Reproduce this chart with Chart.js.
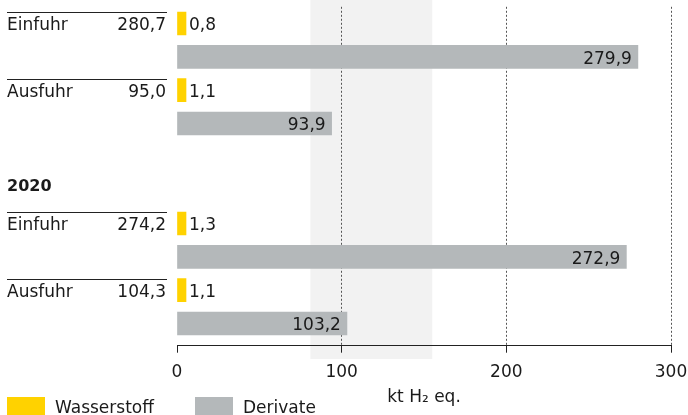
<!DOCTYPE html>
<html><head><meta charset="utf-8">
<script src="https://cdn.jsdelivr.net/npm/chart.js@4"></script>
<style>html,body{margin:0;padding:0;background:#fff}canvas{display:block}</style>
</head><body>
<canvas id="c" width="688" height="415"></canvas>
<script>
// ---- data ----
const rowLabels = ['Einfuhr', 'Ausfuhr', 'Einfuhr', 'Ausfuhr'];
const rowGroups = [0, 0, 1, 1];
const groupHeaders = ['', '2020'];
const totals = [280.7, 95.0, 274.2, 104.3];
const wasserstoff = [0.8, 1.1, 1.3, 1.1];
const derivate = [279.9, 93.9, 272.9, 103.2];
const seriesNames = ['Wasserstoff', 'Derivate'];
const xTicks = [0, 100, 200, 300];
const axisTitle = 'kt H₂ eq.';
const bandRange = [81, 155];

// ---- style ----
const FONT = '"DejaVu Sans", sans-serif';
const TXT = '#1a1a1a';
const YELLOW = '#FFD200';
const GREY = '#B4B8BA';

function slot(i) { return 2 * i + 2 * rowGroups[i]; }
function fmt(v) { return v.toFixed(1).replace('.', ','); }

const overlay = {
  id: 'overlay',
  beforeDraw(chart) {
    const {ctx} = chart;
    const xs = chart.scales.x;
    const x1 = xs.getPixelForValue(bandRange[0]);
    const x2 = xs.getPixelForValue(bandRange[1]);
    ctx.save();
    ctx.fillStyle = '#F2F2F2';
    ctx.fillRect(x1, 0, x2 - x1, 359);
    ctx.restore();
  },
  afterDatasetsDraw(chart) {
    const {ctx} = chart;
    const ys = chart.scales.y;
    const m0 = chart.getDatasetMeta(0).data;
    const m1 = chart.getDatasetMeta(1).data;
    ctx.save();
    ctx.fillStyle = TXT;
    ctx.font = '17px ' + FONT;
    ctx.textBaseline = 'alphabetic';
    // value labels
    m0.forEach((b, i) => {
      ctx.textAlign = 'left';
      ctx.fillText(fmt(wasserstoff[i]), b.x + 3, b.y + 7);
    });
    m1.forEach((b, i) => {
      ctx.textAlign = 'right';
      ctx.fillText(fmt(derivate[i]), b.x - 6, b.y + 7);
    });
    // left labels
    rowLabels.forEach((lab, i) => {
      const y = ys.getPixelForValue(slot(i));
      ctx.textAlign = 'left';
      ctx.fillText(lab, 7, y + 7);
      ctx.textAlign = 'right';
      ctx.fillText(fmt(totals[i]), 166, y + 7);
      ctx.strokeStyle = '#222';
      ctx.lineWidth = 1;
      const ly = Math.round(y - 11) + 0.5;
      ctx.beginPath();
      ctx.moveTo(7, ly);
      ctx.lineTo(167, ly);
      ctx.stroke();
    });
    // group headers
    ctx.font = 'bold 16px ' + FONT;
    ctx.textAlign = 'left';
    groupHeaders.forEach((h, g) => {
      if (!h) return;
      const first = rowGroups.indexOf(g);
      const y = ys.getPixelForValue(slot(first) - 1);
      ctx.fillText(h, 7, y + 1);
    });
    // legend
    ctx.font = '17px ' + FONT;
    const colors = [YELLOW, GREY];
    const lx = [7, 195];
    seriesNames.forEach((n, k) => {
      ctx.fillStyle = colors[k];
      ctx.fillRect(lx[k], 397, 38, 19);
      ctx.fillStyle = TXT;
      ctx.fillText(n, lx[k] + 48, 413);
    });
    ctx.restore();
  }
};

new Chart(document.getElementById('c'), {
  type: 'bar',
  data: {
    datasets: [
      {
        label: seriesNames[0],
        data: wasserstoff.map((v, i) => ({x: v, y: slot(i)})),
        backgroundColor: YELLOW,
        barThickness: 23,
        minBarLength: 9
      },
      {
        label: seriesNames[1],
        data: derivate.map((v, i) => ({x: v, y: slot(i) + 1})),
        backgroundColor: GREY,
        barThickness: 23
      }
    ]
  },
  options: {
    indexAxis: 'y',
    responsive: false,
    animation: false,
    grouped: false,
    layout: {padding: {left: 177, right: 17, top: 6.8, bottom: 0}},
    plugins: {legend: {display: false}, tooltip: {enabled: false}},
    scales: {
      y: {
        type: 'linear',
        min: -0.5,
        max: 9.667,
        reverse: true,
        offset: false,
        grid: {offset: false},
        display: false
      },
      x: {
        type: 'linear',
        min: 0,
        max: 300,
        afterBuildTicks(scale) { scale.ticks = xTicks.map(v => ({value: v})); },
        afterFit(scale) {
          scale.height = 415 - 345.7;
          scale.paddingLeft = 0;
          scale.paddingRight = 0;
        },
        ticks: {
          font: {family: FONT, size: 17},
          color: TXT,
          padding: 10,
          callback: v => String(v),
          maxRotation: 0
        },
        grid: {
          color: c => (c.tick && c.tick.value === 0) ? 'rgba(0,0,0,0)' : '#555',
          tickColor: '#222',
          tickLength: 7,
          tickBorderDash: [],
          drawOnChartArea: true
        },
        border: {display: true, color: '#222', width: 1, dash: [2, 2]},
        title: {
          display: true,
          text: axisTitle,
          font: {family: FONT, size: 17},
          color: TXT,
          padding: {top: 0, bottom: 7}
        }
      }
    }
  },
  plugins: [overlay]
});
</script>
</body></html>
